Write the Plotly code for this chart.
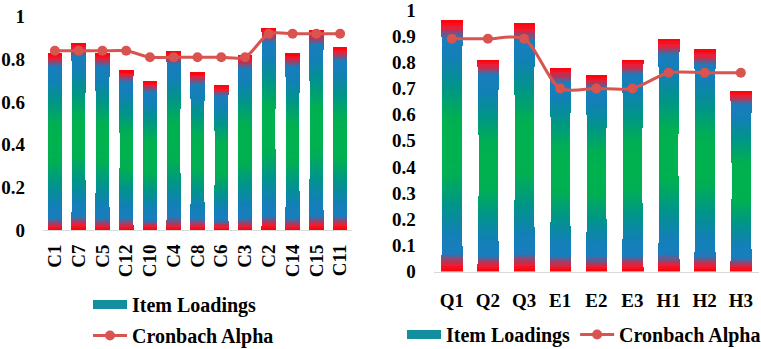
import plotly.graph_objects as go
import numpy as np

# ---------------- data ----------------
left_items = ["C1", "C7", "C5", "C12", "C10", "C4", "C8", "C6", "C3", "C2", "C14", "C15", "C11"]
left_loadings = [0.83, 0.88, 0.83, 0.75, 0.70, 0.84, 0.74, 0.68, 0.82, 0.95, 0.83, 0.94, 0.86]
left_alpha = [0.84, 0.84, 0.84, 0.84, 0.81, 0.81, 0.81, 0.81, 0.81, 0.92, 0.92, 0.92, 0.92]

right_items = ["Q1", "Q2", "Q3", "E1", "E2", "E3", "H1", "H2", "H3"]
right_loadings = [0.96, 0.81, 0.95, 0.78, 0.75, 0.81, 0.89, 0.85, 0.69]
right_alpha = [0.89, 0.89, 0.89, 0.70, 0.70, 0.70, 0.76, 0.76, 0.76]

y_ticks_left = [0, 0.2, 0.4, 0.6, 0.8, 1]
y_ticks_right = [0, 0.1, 0.2, 0.3, 0.4, 0.5, 0.6, 0.7, 0.8, 0.9, 1]

# ---------------- style ----------------
FONT = "Liberation Serif, Times New Roman, serif"
LINE_COLOR = "#D9534F"
N_SEG = 90

STOPS = [(0.0, (255, 0, 0)), (0.025, (242, 25, 50)), (0.075, (24, 126, 190)),
         (0.15, (18, 128, 182)), (0.27, (0, 150, 135)), (0.39, (0, 175, 82)),
         (0.5, (0, 178, 78))]


def seg_color(t):
    d = min(t, 1 - t)
    for (d0, c0), (d1, c1) in zip(STOPS[:-1], STOPS[1:]):
        if d0 <= d <= d1:
            f = (d - d0) / (d1 - d0) if d1 > d0 else 0
            c = [round(a + (b - a) * f) for a, b in zip(c0, c1)]
            return "rgb(%d,%d,%d)" % tuple(c)
    return "rgb(%d,%d,%d)" % STOPS[-1][1]


def seg_width(t, w_end, w_mid):
    return w_end - (w_end - w_mid) * np.sin(np.pi * t)


fig = go.Figure()


def add_gradient_bars(items, values, xa, ya, w_end, w_mid):
    for k in range(N_SEG):
        t = (k + 0.5) / N_SEG
        fig.add_trace(go.Bar(
            x=items, y=[v / N_SEG for v in values],
            width=[seg_width(t, w_end, w_mid)] * len(items),
            marker=dict(color=seg_color(t), line=dict(width=0)),
            xaxis=xa, yaxis=ya, showlegend=False, hoverinfo="skip"))


add_gradient_bars(left_items, left_loadings, "x", "y", 0.62, 0.56)
add_gradient_bars(right_items, right_loadings, "x2", "y2", 0.60, 0.53)

# alpha lines
fig.add_trace(go.Scatter(x=left_items, y=left_alpha, mode="lines+markers",
                         line=dict(color=LINE_COLOR, width=3, shape="spline", smoothing=0.8),
                         marker=dict(size=10, color=LINE_COLOR),
                         xaxis="x", yaxis="y", showlegend=False))
fig.add_trace(go.Scatter(x=right_items, y=right_alpha, mode="lines+markers",
                         line=dict(color=LINE_COLOR, width=3, shape="spline", smoothing=0.8),
                         marker=dict(size=10, color=LINE_COLOR),
                         xaxis="x2", yaxis="y2", showlegend=False))

# legend proxies
for lg in ["legend", "legend2"]:
    fig.add_trace(go.Scatter(x=[None], y=[None], mode="lines", name="Item Loadings",
                             line=dict(color="#138E9E", width=9), legend=lg,
                             legendgroup=lg + "a"))
    fig.add_trace(go.Scatter(x=[None], y=[None], mode="lines+markers", name="Cronbach Alpha",
                             line=dict(color=LINE_COLOR, width=3),
                             marker=dict(size=10, color=LINE_COLOR), legend=lg,
                             legendgroup=lg + "b"))

W, H = 761, 349
tickfont = dict(family=FONT, size=19, color="black", weight="bold")
legfont = dict(family=FONT, size=20, color="black", weight="bold")

fig.update_layout(
    width=W, height=H, autosize=False,
    margin=dict(l=0, r=0, t=0, b=0, autoexpand=False),
    paper_bgcolor="white", plot_bgcolor="white",
    barmode="stack", bargap=0,
    font=dict(family=FONT, size=18, color="black", weight="bold"),
    xaxis=dict(domain=[43 / W, 352 / W], anchor="y", tickangle=-90, tickfont=tickfont,
               showline=True, linecolor="#D9D9D9", linewidth=1, showgrid=False,
               ticks="", ticklabelstandoff=6, automargin=False, ticklabeloverflow="allow",
               range=[-0.5, len(left_items) - 0.5]),
    yaxis=dict(domain=[(H - 230) / H, (H - 16.7) / H], anchor="x", range=[0, 1],
               tickvals=y_ticks_left, ticktext=["0", "0.2", "0.4", "0.6", "0.8", "1"],
               tickfont=tickfont, showgrid=False, zeroline=False, showline=False,
               ticklabelstandoff=17, automargin=False, ticklabeloverflow="allow"),
    xaxis2=dict(domain=[433.7 / W, 758.9 / W], anchor="y2", tickangle=0, tickfont=tickfont,
                showline=True, linecolor="#D9D9D9", linewidth=1, showgrid=False,
                ticks="", ticklabelstandoff=12, automargin=False, ticklabeloverflow="allow",
                range=[-0.5, len(right_items) - 0.5]),
    yaxis2=dict(domain=[(H - 271.5) / H, (H - 10) / H], anchor="x2", range=[0, 1],
                tickvals=y_ticks_right,
                ticktext=["0", "0.1", "0.2", "0.3", "0.4", "0.5", "0.6", "0.7", "0.8", "0.9", "1"],
                tickfont=tickfont, showgrid=False, zeroline=False, showline=False,
                ticklabelstandoff=17, automargin=False, ticklabeloverflow="allow"),
    legend=dict(orientation="v", x=88 / W, y=(H - 285) / H, xanchor="left", yanchor="top",
                font=legfont, tracegroupgap=2, itemwidth=34, bgcolor="rgba(0,0,0,0)"),
    legend2=dict(orientation="h", x=402 / W, y=(H - 315) / H, xanchor="left", yanchor="top",
                 font=legfont, itemwidth=34, bgcolor="rgba(0,0,0,0)"),
)

fig.write_html("out.html", config={"displayModeBar": False},
               post_script="document.body.style.margin='0';")
